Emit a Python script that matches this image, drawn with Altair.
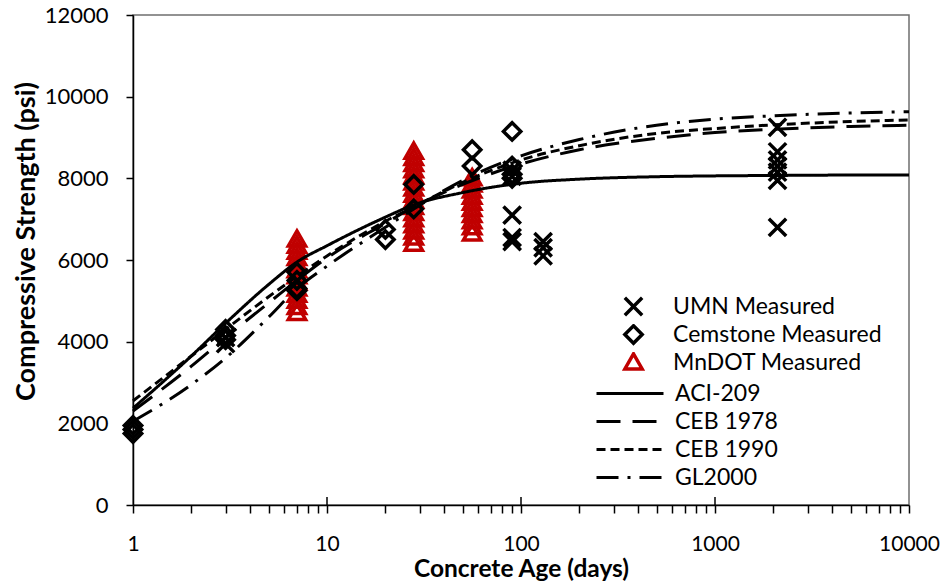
import altair as alt
import pandas as pd

# ---- model curves ----
age_grid = [1, 2, 3, 5, 7, 10, 20, 28, 50, 100, 200, 500, 1000, 2000, 5000, 10000]
aci209 = [2370, 3650, 4450, 5400, 5950, 6350, 7050, 7350, 7650, 7880, 7980, 8040, 8060, 8070, 8080, 8080]
ceb1978 = [2300, 3400, 4100, 4950, 5500, 6050, 6900, 7300, 7850, 8350, 8700, 8980, 9120, 9200, 9270, 9300]
ceb1990 = [2550, 3650, 4300, 5100, 5600, 6100, 6950, 7300, 7900, 8450, 8800, 9100, 9220, 9310, 9390, 9430]
gl2000 = [2050, 2950, 3600, 4600, 5300, 5850, 6800, 7250, 7950, 8550, 8950, 9300, 9450, 9530, 9600, 9630]
model_names = ["ACI-209", "CEB 1978", "CEB 1990", "GL2000"]

mndot_age = [7] * 13 + [28] * 16 + [56] * 10
mndot_psi = [6500, 6350, 6200, 6050, 5900, 5750, 5600, 5450, 5300, 5150, 5000, 4850, 4700,
             8650, 8500, 8350, 8200, 8050, 7900, 7750, 7600, 7450, 7300, 7150, 7000, 6850, 6700, 6550, 6400,
             8000, 7850, 7700, 7550, 7400, 7250, 7100, 6950, 6800, 6650]
cem_age = [1, 1, 1, 3, 3, 3, 7, 7, 7, 7, 20, 20, 28, 28, 56, 56, 90, 90, 90, 90]
cem_psi = [1950, 1850, 1750, 4300, 4150, 4050, 5700, 5500, 5300, 5250, 6750, 6500, 7850, 7250,
           8700, 8300, 9150, 8300, 8100, 8000]
umn_age = [3, 3, 90, 90, 90, 90, 90, 130, 130, 130, 2100, 2100, 2100, 2100, 2100, 2100, 2100]
umn_psi = [3950, 4100, 8200, 8050, 7100, 6550, 6450, 6450, 6300, 6100, 9250, 8650, 8450, 8300, 8150, 7950, 6800]
source_names = ["UMN Measured", "Cemstone Measured", "MnDOT Measured"]

x_ticks = [1, 2, 3, 4, 5, 6, 7, 8, 9, 10, 20, 30, 40, 50, 60, 70, 80, 90, 100,
           200, 300, 400, 500, 600, 700, 800, 900, 1000, 2000, 3000, 4000, 5000,
           6000, 7000, 8000, 9000, 10000]
x_major = [10, 100, 1000]
y_ticks = [0, 2000, 4000, 6000, 8000, 10000, 12000]

FONT = "Lato"
RED = "#C00000"

lines_df = pd.DataFrame({
    "age": age_grid * 4,
    "psi": aci209 + ceb1978 + ceb1990 + gl2000,
    "model": sum([[m] * len(age_grid) for m in model_names], []),
})
pts_df = pd.DataFrame({
    "age": mndot_age + cem_age + umn_age,
    "psi": mndot_psi + cem_psi + umn_psi,
    "source": ["MnDOT Measured"] * len(mndot_age) + ["Cemstone Measured"] * len(cem_age)
              + ["UMN Measured"] * len(umn_age),
})
major_df = pd.DataFrame({"age": x_major})

X_PATH = "M-1,-1L1,1M-1,1L1,-1"
D_PATH = "M0,-1L1,0L0,1L-1,0Z"
T_PATH = "M0,-1L1,0.75L-1,0.75Z"

xscale = alt.Scale(type="log", domain=[1, 10000], nice=False)
yscale = alt.Scale(domain=[0, 12000], nice=False)

xaxis = alt.Axis(values=x_ticks, format="d",
                 labelExpr="indexof(['1','10','100','1000','10000'], datum.label) >= 0 ? datum.label : ''",
                 grid=False, tickSize=8, labelPadding=20, labelFontSize=21,
                 title="Concrete Age (days)", titleFontSize=24.5, titleFontWeight="bold",
                 titlePadding=3, labelFlush=False)
yaxis = alt.Axis(values=y_ticks, format="d", grid=False, tickSize=7, labelPadding=18,
                 labelFontSize=22, title="Compressive Strength (psi)", titleFontSize=27,
                 titleFontWeight="bold", titlePadding=4, titleY=226)

pts_legend = alt.Legend(orient="none", legendX=489, legendY=281, title=None,
                        labelFontSize=23, labelFont=FONT, symbolSize=300,
                        symbolStrokeWidth=3.5, rowPadding=4, labelOffset=28,
                        labelColor="black", labelLimit=0, clipHeight=21)

points = alt.Chart(pts_df).mark_point(filled=False, strokeWidth=3.5, size=300, opacity=1).encode(
    x=alt.X("age:Q", scale=xscale, axis=xaxis),
    y=alt.Y("psi:Q", scale=yscale, axis=yaxis),
    shape=alt.Shape("source:N", scale=alt.Scale(domain=source_names, range=[X_PATH, D_PATH, T_PATH]),
                    legend=pts_legend),
    color=alt.Color("source:N", scale=alt.Scale(domain=source_names, range=["black", "black", RED]),
                    legend=pts_legend),
)

lines = alt.Chart(lines_df).mark_line(strokeWidth=3, interpolate="monotone", color="black").encode(
    x=alt.X("age:Q", scale=xscale),
    y=alt.Y("psi:Q", scale=yscale),
    strokeDash=alt.StrokeDash("model:N",
                              scale=alt.Scale(domain=model_names,
                                              range=[[1, 0], [24, 12], [9, 5], [22, 9, 3, 9]]),
                              legend=alt.Legend(orient="none", legendX=462, legendY=368, title=None,
                                                labelFontSize=23, labelFont=FONT, symbolType="stroke",
                                                symbolSize=4489, symbolStrokeWidth=3,
                                                symbolStrokeColor="black", rowPadding=4,
                                                clipHeight=21, labelLimit=0,
                                                labelOffset=10, labelColor="black")),
)

major_in = alt.Chart(major_df).mark_rule(color="black", strokeWidth=1.5).encode(
    x=alt.X("age:Q", scale=xscale),
    y=alt.value(490), y2=alt.value(482),
)

chart = alt.layer(points, lines, major_in).properties(
    width=776, height=490,
    autosize=alt.AutoSizeParams(type="none"),
    padding={"left": 133, "top": 15, "right": 39, "bottom": 78},
).configure(font=FONT).configure_view(
    stroke="#6f6f6f", strokeWidth=1.5
).configure_axis(
    domainColor="black", domainWidth=1.5, tickColor="black", tickWidth=1.5,
    labelColor="black", titleColor="black", labelFont=FONT, titleFont=FONT,
)

chart.save("out.html", embed_options={"renderer": "svg", "actions": False})
